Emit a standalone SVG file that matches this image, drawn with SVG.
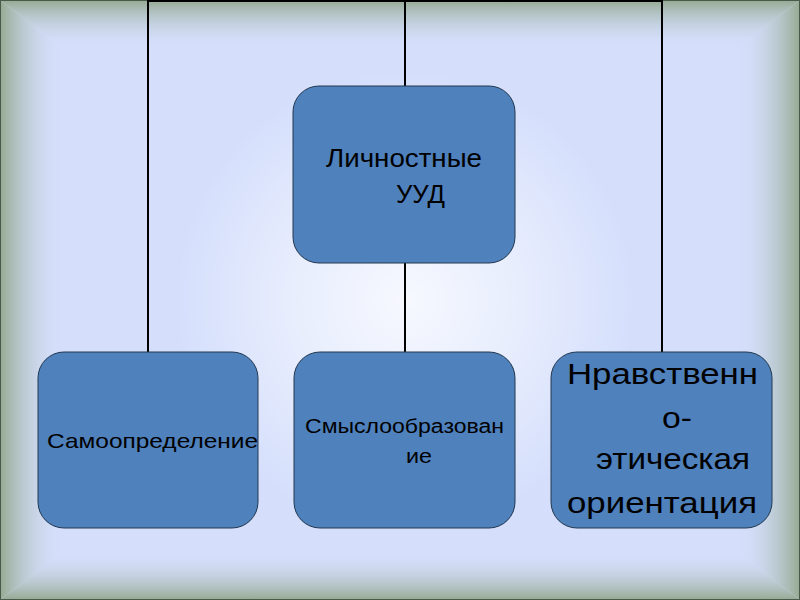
<svg xmlns="http://www.w3.org/2000/svg" width="800" height="600" viewBox="0 0 800 600">
<defs>
<linearGradient id="gt" x1="0" y1="0" x2="0" y2="1"><stop offset="0" stop-color="#95aa92"/><stop offset="1" stop-color="#d5dffc" stop-opacity="0"/></linearGradient>
<linearGradient id="gb" x1="0" y1="1" x2="0" y2="0"><stop offset="0" stop-color="#95aa92"/><stop offset="1" stop-color="#d5dffc" stop-opacity="0"/></linearGradient>
<linearGradient id="gl" x1="0" y1="0" x2="1" y2="0"><stop offset="0" stop-color="#95aa92"/><stop offset="1" stop-color="#d5dffc" stop-opacity="0"/></linearGradient>
<linearGradient id="gr" x1="1" y1="0" x2="0" y2="0"><stop offset="0" stop-color="#95aa92"/><stop offset="1" stop-color="#d5dffc" stop-opacity="0"/></linearGradient>
<radialGradient id="gc" cx="405" cy="300" r="230" gradientUnits="userSpaceOnUse"><stop offset="0" stop-color="#ffffff" stop-opacity="0.8"/><stop offset="0.5" stop-color="#ffffff" stop-opacity="0.45"/><stop offset="1" stop-color="#ffffff" stop-opacity="0"/></radialGradient>
</defs>
<style>
.box{fill:#4f81bd;stroke:#22384f;stroke-width:1}
.ln{stroke:#000;stroke-width:2;fill:none}
text{font-family:"Liberation Sans",Arial,sans-serif;fill:#000}
</style>
<g id="background">
<rect x="0" y="0" width="800" height="600" fill="#d5dffc"/>
<rect x="0" y="0" width="800" height="600" fill="url(#gc)"/>
<polygon points="0,0 800,0 735,50 65,50" fill="url(#gt)"/>
<polygon points="0,600 800,600 735,550 65,550" fill="url(#gb)"/>
<polygon points="0,0 65,50 65,550 0,600" fill="url(#gl)"/>
<polygon points="800,0 735,50 735,550 800,600" fill="url(#gr)"/>
<rect x="0.5" y="0.5" width="799" height="599" fill="none" stroke="#4a5a4a" stroke-width="1"/>
</g>
<g id="connectors">
<polyline class="ln" points="148,352 148,1 662,1 662,352"/>
<line class="ln" x1="405" y1="1" x2="405" y2="87"/>
<line class="ln" x1="405" y1="263" x2="405" y2="352"/>
</g>
<g id="node-lichnostnye">
<rect class="box" x="293" y="86" width="222" height="177" rx="26"/>
<text x="326" y="167" font-size="26" textLength="156" lengthAdjust="spacingAndGlyphs">Личностные</text>
<text x="396" y="203" font-size="26" textLength="49" lengthAdjust="spacingAndGlyphs">УУД</text>
</g>
<g id="node-samoopredelenie">
<rect class="box" x="38" y="352" width="220" height="176" rx="26"/>
<text x="47" y="448" font-size="21" textLength="211" lengthAdjust="spacingAndGlyphs">Самоопределение</text>
</g>
<g id="node-smysloobrazovanie">
<rect class="box" x="294" y="352" width="221" height="176" rx="26"/>
<text x="305" y="433" font-size="20" textLength="199" lengthAdjust="spacingAndGlyphs">Смыслообразован</text>
<text x="406" y="463" font-size="20" textLength="26" lengthAdjust="spacingAndGlyphs">ие</text>
</g>
<g id="node-nravstvenno">
<rect class="box" x="551" y="352" width="221" height="176" rx="26"/>
<text x="567" y="384" font-size="30" textLength="191" lengthAdjust="spacingAndGlyphs">Нравственн</text>
<text x="662" y="428" font-size="30" textLength="30" lengthAdjust="spacingAndGlyphs">о-</text>
<text x="596" y="469" font-size="30" textLength="154" lengthAdjust="spacingAndGlyphs">этическая</text>
<text x="567" y="513" font-size="30" textLength="190" lengthAdjust="spacingAndGlyphs">ориентация</text>
</g>
</svg>
